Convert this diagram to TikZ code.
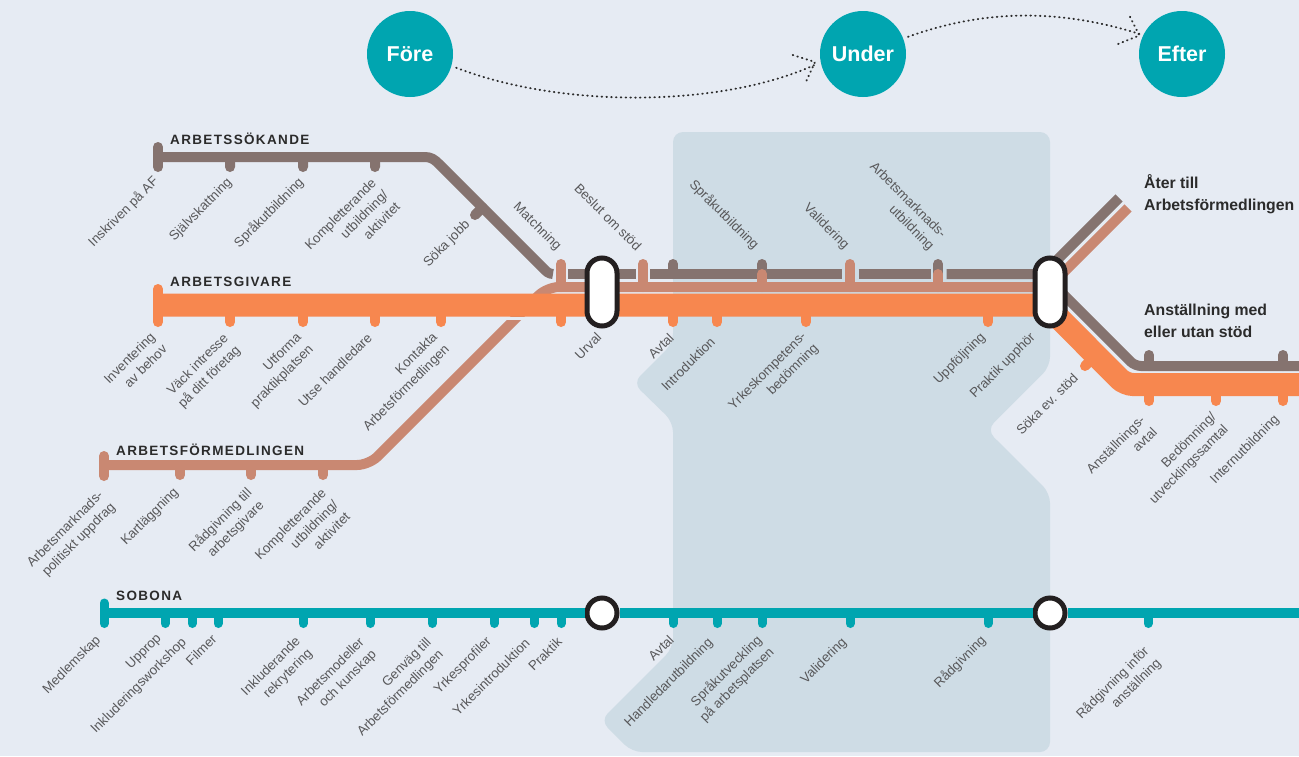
\documentclass[tikz,border=0pt]{standalone}
\usepackage{fontspec}
\setmainfont{Liberation Sans}
\newfontfamily\headfont[LetterSpace=10]{Liberation Sans}
\definecolor{pagecol}{HTML}{E6EBF3}
\definecolor{panelcol}{HTML}{CEDCE5}
\definecolor{browncol}{HTML}{85736F}
\definecolor{salmoncol}{HTML}{C98872}
\definecolor{orangecol}{HTML}{F7874F}
\definecolor{tealcol}{HTML}{00A5B0}
\definecolor{labelcol}{HTML}{58585A}
\definecolor{darkcol}{HTML}{2B2B2B}
\definecolor{hubcol}{HTML}{231F20}

\begin{document}
\begin{tikzpicture} [
    x = 1pt, y = -1pt,
    c/.style = {circle, fill=tealcol, text=white, minimum size=86pt, inner sep=0pt, font=\fontsize{21.5}{24}\selectfont\bfseries},
    hub/.style = {rectangle, draw=hubcol, fill=white, line width=5pt, minimum width=30pt, minimum height=68pt, rounded corners=15pt, inner sep=0pt},
    ring/.style = {circle, draw=hubcol, fill=white, line width=5pt, minimum size=30pt, inner sep=0pt},
    labbase/.style = {align=right, inner sep=0pt, text=labelcol, font=\fontsize{13.3}{17}\selectfont},
    lab/.style = {labbase, rotate=45},
    labr/.style = {labbase, rotate=-45},
    mlab/.style = {lab, anchor=north east},
    head/.style = {anchor=west, inner sep=0pt, text=darkcol, font=\fontsize{13.5}{16}\selectfont\headfont\bfseries},
    dest/.style = {anchor=west, align=left, inner sep=0pt, text=darkcol, font=\fontsize{15.8}{22}\selectfont\bfseries},
    dots/.style = {draw=darkcol, line width=1.9pt, line cap=round, dash pattern=on 0.6pt off 4.2pt},
    brown/.style = {draw=browncol, line width=10pt},
    salmon/.style = {draw=salmoncol, line width=10pt},
    orange/.style = {draw=orangecol, line width=23pt},
    teal/.style = {draw=tealcol, line width=10pt},
    bstop/.style = {draw=browncol, line width=10pt, line cap=round},
    sstop/.style = {draw=salmoncol, line width=10pt, line cap=round},
    ostop/.style = {draw=orangecol, line width=10pt, line cap=round},
    tstop/.style = {draw=tealcol, line width=9pt, line cap=round}
    ]
    \useasboundingbox (0,0) rectangle (1299,756);
    \fill[pagecol] (0,0) rectangle (1299,756);
    \fill[panelcol, rounded corners=10pt] (860,132) -- (1050,132) -- (1050,366.7) -- (986.7,430) -- (1050,493) -- (1050,752) -- (632,752) -- (600.5,720.5) -- (673,648) -- (673,422) -- (633,383) -- (673,343) -- (673,132) -- cycle;

    \node[c](fore) at (410,54) {Före};
    \node[c](under) at (863,54) {Under};
    \node[c](efter) at (1182,54) {Efter};

    \draw[dots, shorten <=5pt, shorten >=6pt] (fore.-16) .. controls (560,108) and (720,108) .. (under.191);
    \draw[dots] (792.7,55) -- (815,62) -- (806,81.7);
    \draw[dots, shorten <=5pt, shorten >=4pt] (under.21) .. controls (985,9) and (1060,9) .. (efter.154);
    \draw[dots] (1130,16.7) -- (1139.3,35.5) -- (1118,44);

    \coordinate (hubinR) at (1040,274);

    \draw[brown, line join=round] (158,157) -- (425,157) to[out=0, in=135] (439,164) -- (543,268) to[out=-45, in=180] (553,274);
    \draw[brown] (568,274) -- (636,274);
    \draw[brown] (650,274) -- (842,274);
    \draw[brown] (858.7,274) -- (930.7,274);
    \draw[brown] (946.7,274) -- (hubinR) -- (1043,274) -- (1119,198);
    \draw[brown, rounded corners=6pt] (1043,274) -- (1135,366) -- (1299,366);
    \draw[bstop] (158,147) -- (158,167);
    \draw[bstop] (230,157) -- (230,167) (303,157) -- (303,167) (375,157) -- (375,167) (482.5,207.5) -- (475,215);
    \draw[bstop] (673,274) -- (673,264) (762,274) -- (762,264) (938,274) -- (938,264);
    \draw[bstop] (1149,366) -- (1149,355) (1283,366) -- (1283,355);

    \draw[salmon, rounded corners=12pt] (104,465) -- (369,465) -- (547,287) -- (1049,287) -- (1128,208);
    \draw[sstop] (104,456) -- (104,476);
    \draw[sstop] (180,465) -- (180,475) (251,465) -- (251,475) (323,465) -- (323,475);
    \draw[sstop] (561,287) -- (561,264) (643,287) -- (643,264) (850,287) -- (850,264);
    \draw[sstop] (762,287) -- (762,274) (938,287) -- (938,274);

    \draw[pagecol, line width=3pt] (500,318.5) -- (550,318.5);
    \draw[orange, rounded corners=8pt] (158,305) -- (1046,305) -- (1125,384.5) -- (1299,384.5);
    \draw[ostop] (158,289) -- (158,322);
    \draw[ostop] (230,305) -- (230,322) (303,305) -- (303,322) (375,305) -- (375,322) (441,305) -- (441,322) (561,305) -- (561,322);
    \draw[ostop] (673,305) -- (673,322) (717,305) -- (717,322) (806,305) -- (806,322) (988,305) -- (988,322);
    \draw[ostop] (1096,355) -- (1085,366);
    \draw[ostop] (1149,384.5) -- (1149,401) (1216,384.5) -- (1216,401) (1283,384.5) -- (1283,401);

    \node[hub](hubL) at (602,292) {};
    \node[hub](hubR) at (1050,292) {};

    \node[ring](ringL) at (602,613) {};
    \node[ring](ringR) at (1050,613) {};
    \coordinate (sobstart) at (104,613);
    \coordinate (sobend) at (1299,613);
    \draw[teal] (sobstart) -- (ringL);
    \draw[teal] (ringL) -- (ringR);
    \draw[teal] (ringR) -- (sobend);
    \draw[tstop] (104,603) -- (104,623.5);
    \draw[tstop] (165,613) -- (165,623.5) (192,613) -- (192,623.5) (218,613) -- (218,623.5) (303,613) -- (303,623.5) (370,613) -- (370,623.5) (432,613) -- (432,623.5) (494,613) -- (494,623.5) (534,613) -- (534,623.5) (561,613) -- (561,623.5);
    \draw[tstop] (673,613) -- (673,623.5) (717,613) -- (717,623.5) (762,613) -- (762,623.5) (850,613) -- (850,623.5) (988,613) -- (988,623.5) (1148,613) -- (1148,623.5);

    \node[head](arbsok) at (170,139) {ARBETSSÖKANDE};
    \node[head](arbgiv) at (170,282) {ARBETSGIVARE};
    \node[head](arbfor) at (116,450) {ARBETSFÖRMEDLINGEN};
    \node[head](sobona) at (116,596) {SOBONA};
    \node[dest](ater) at (1144,194) {Åter till\\Arbetsförmedlingen};
    \node[dest](anstall) at (1144,321) {Anställning med\\eller utan stöd};

    \node[lab](inskriven) at (123.5,212) {Inskriven på AF};
    \node[lab](sjalv) at (201,210) {Självskattning};
    \node[lab](sprak) at (269,213) {Språkutbildning};
    \node[mlab](kompl) at (370,177) {Kompletterande\\utbildning/\\aktivitet};
    \node[lab](sokajobb) at (447,244) {Söka jobb};
    \node[labr](matchning) at (537,227) {Matchning};
    \node[labr](beslut) at (608,217) {Beslut om stöd};
    \node[labr](sprakU) at (724,215) {Språkutbildning};
    \node[labr](valid) at (826,227) {Validering};
    \node[labr, anchor=north east](arbutb) at (948,232) {Arbetsmarknads-\\utbildning};

    \node[mlab](invent) at (149,331) {Inventering\\av behov};
    \node[mlab](vack) at (222,332) {Väck intresse\\på ditt företag};
    \node[mlab](utforma) at (295,331) {Utforma\\praktikplatsen};
    \node[lab](utse) at (335,370) {Utse handledare};
    \node[mlab](kontakta) at (431,331) {Kontakta\\Arbetsförmedlingen};
    \node[lab](urval) at (588,346) {Urval};
    \node[lab](avtalG) at (661,346) {Avtal};
    \node[lab](intro) at (688,364) {Introduktion};
    \node[mlab](yrkes) at (800,330) {Yrkeskompetens-\\bedömning};
    \node[lab](uppfolj) at (960,359) {Uppföljning};
    \node[lab](upphor) at (1003,366) {Praktik upphör};
    \node[lab](sokaev) at (1047,404) {Söka ev. stöd};
    \node[mlab](anstavtal) at (1139,414) {Anställnings-\\avtal};
    \node[mlab](bedom) at (1210,411) {Bedömning/\\utvecklingssamtal};
    \node[lab](intern) at (1245,450) {Internutbildning};

    \node[mlab](arbpol) at (97,489) {Arbetsmarknads-\\politiskt uppdrag};
    \node[lab](kart) at (150,517) {Kartläggning};
    \node[mlab](radarb) at (245,486) {Rådgivning till\\arbetsgivare};
    \node[mlab](komplF) at (320,487) {Kompletterande\\utbildning/\\aktivitet};

    \node[lab](medlem) at (72,665) {Medlemskap};
    \node[lab](upprop) at (144,652) {Upprop};
    \node[lab](inklw) at (139,686) {Inkluderingsworkshop};
    \node[lab](filmer) at (201,650) {Filmer};
    \node[mlab](inklr) at (294,635) {Inkluderande\\rekrytering};
    \node[mlab](modell) at (358,636) {Arbetsmodeller\\och kunskap};
    \node[mlab](genvag) at (425,636) {Genväg till\\Arbetsförmedlingen};
    \node[lab](profil) at (463,666) {Yrkesprofiler};
    \node[lab](yintro) at (491,677) {Yrkesintroduktion};
    \node[lab](praktik) at (545,654) {Praktik};
    \node[lab](avtalS) at (661,648) {Avtal};
    \node[lab](handl) at (669,683) {Handledarutbildning};
    \node[mlab](sprutv) at (755,633) {Språkutveckling\\på arbetsplatsen};
    \node[lab](validS) at (824,661) {Validering};
    \node[lab](radg) at (960,662) {Rådgivning};
    \node[mlab](radinf) at (1142,644) {Rådgivning inför\\anställning};
\end{tikzpicture}
\end{document}
